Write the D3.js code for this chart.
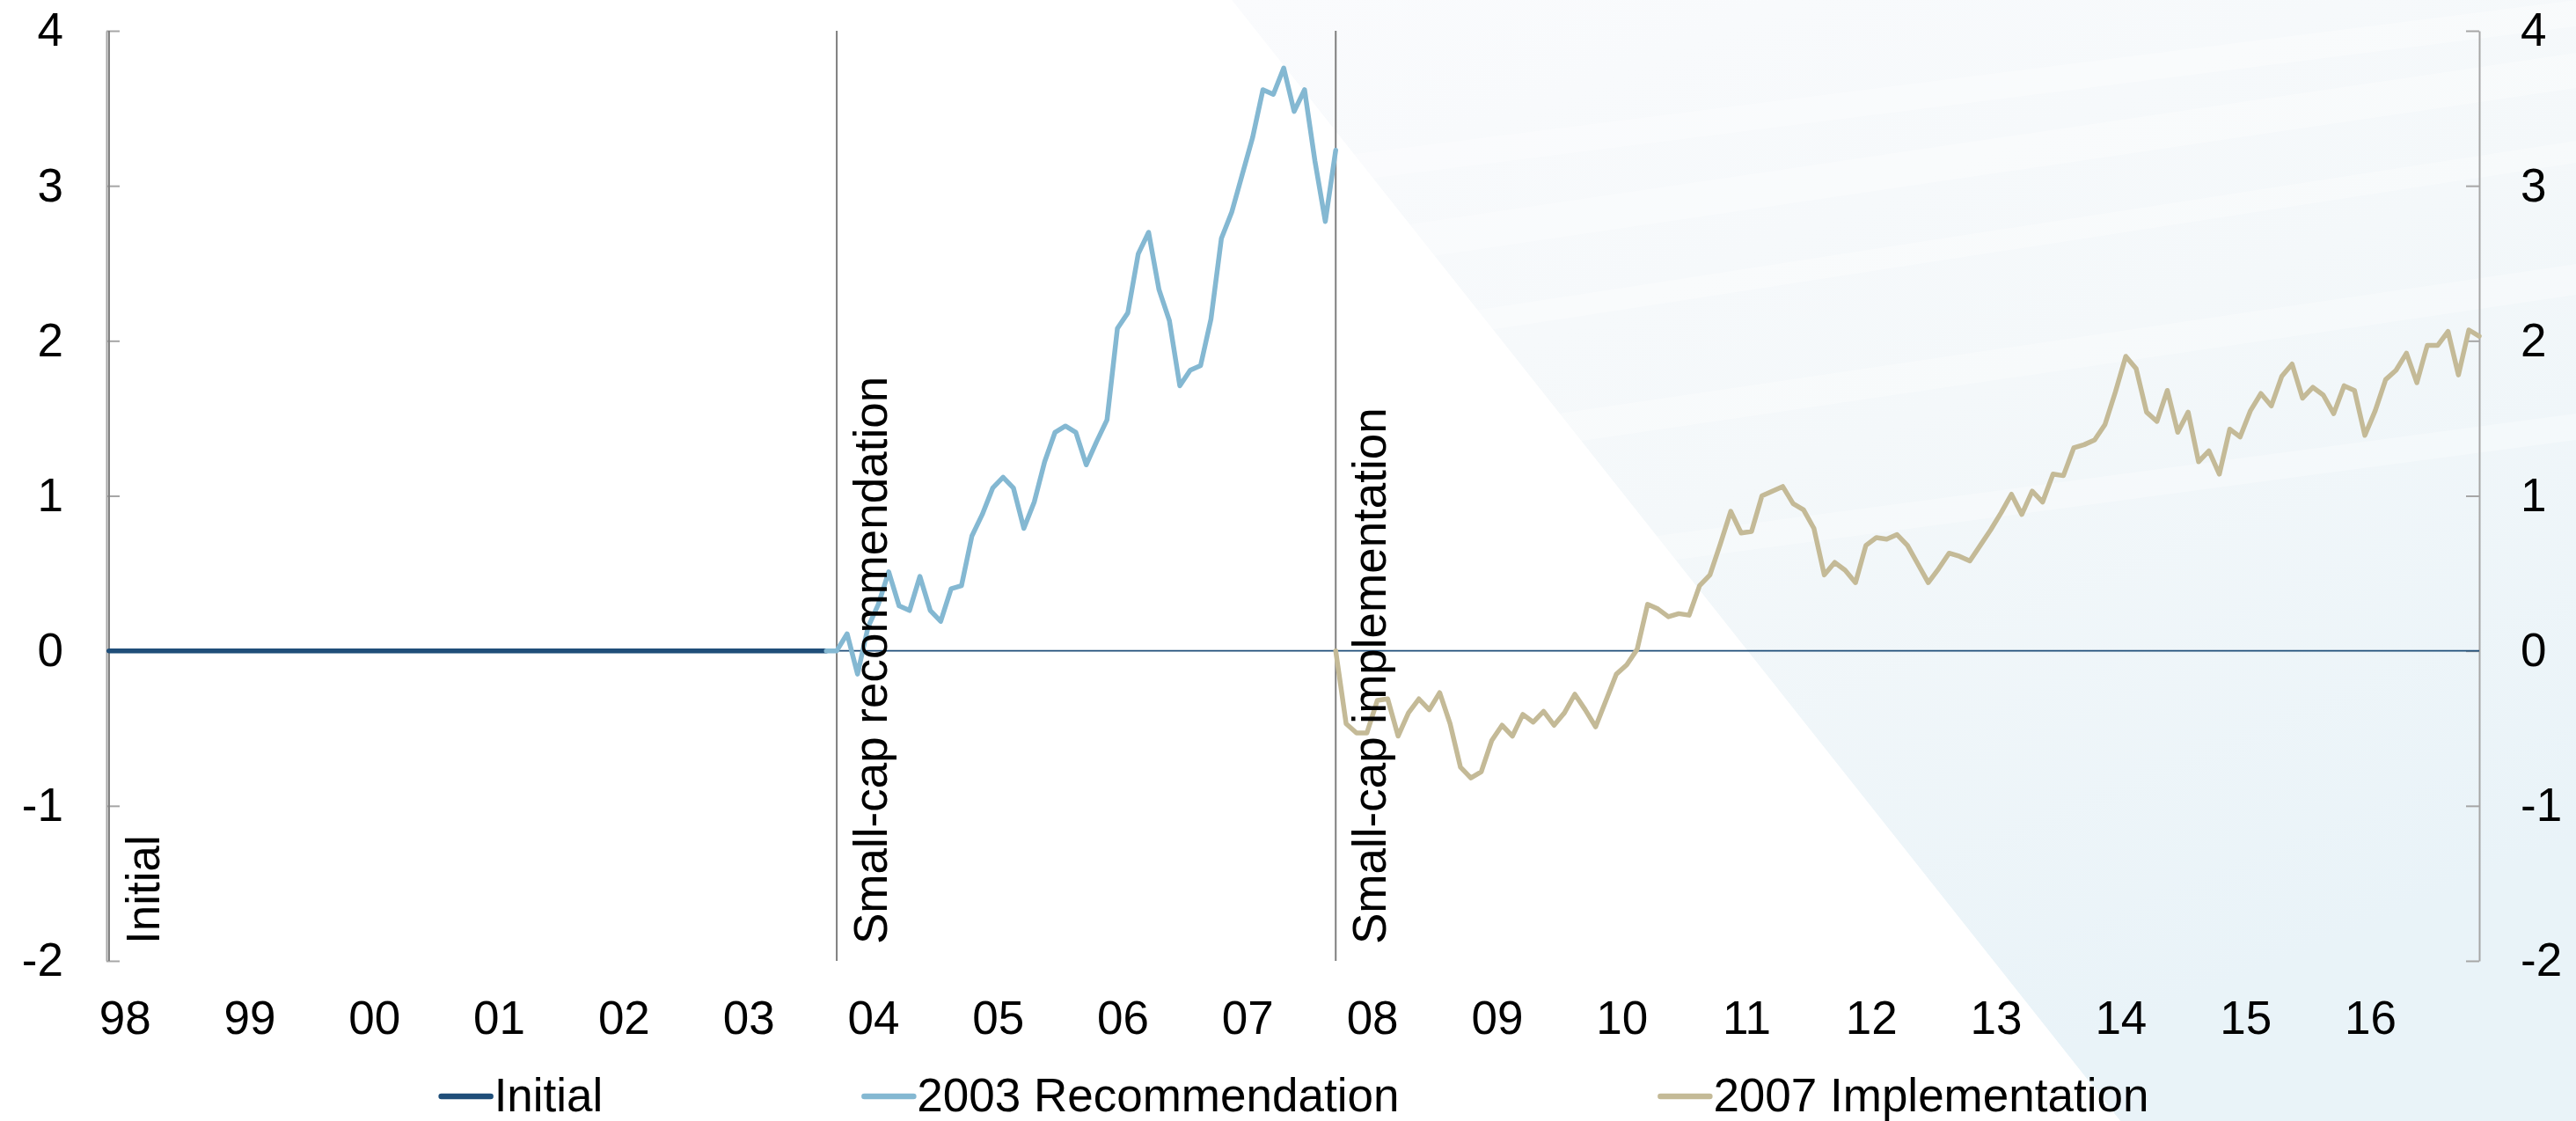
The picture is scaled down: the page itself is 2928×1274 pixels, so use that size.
<!DOCTYPE html>
<html>
<head>
<meta charset="utf-8">
<script src="https://cdn.jsdelivr.net/npm/d3@7"></script>
<style>
  html, body { margin: 0; padding: 0; background: #ffffff; }
  svg { display: block; }
  text { font-family: "Liberation Sans", Arial, sans-serif; fill: #000; }
</style>
</head>
<body>
<script>
// ---------------- DATA ----------------
// month index: 0 = Dec 1997, 1 = Jan 1998, ... 228 = Dec 2016
const yearLabels = ["98","99","00","01","02","03","04","05","06","07","08","09","10","11","12","13","14","15","16"];
const yTicks = [-2, -1, 0, 1, 2, 3, 4];

const seriesNames = ["Initial", "2003 Recommendation", "2007 Implementation"];

// Initial portfolio: flat at zero
const initialMonths = [0, 69];
const initialValues = [0, 0];

// 2003 Recommendation, monthly from month 69
const recStart = 69;
const recValues = [
  0.00, 0.00, 0.11, -0.15, 0.15, 0.30, 0.51, 0.29, 0.26, 0.48,
  0.26, 0.19, 0.40, 0.42, 0.74, 0.88, 1.05, 1.12, 1.05, 0.79,
  0.96, 1.22, 1.41, 1.45, 1.41, 1.20, 1.35, 1.49, 2.08, 2.18,
  2.56, 2.70, 2.33, 2.13, 1.71, 1.81, 1.84, 2.14, 2.66, 2.83,
  3.07, 3.31, 3.62, 3.59, 3.76, 3.48, 3.62, 3.16, 2.77, 3.23
];

// 2007 Implementation, monthly from month 118
const implStart = 118;
const implValues = [
  0.00, -0.47, -0.53, -0.53, -0.32, -0.31, -0.55, -0.40, -0.31, -0.38,
  -0.27, -0.47, -0.75, -0.82, -0.78, -0.58, -0.48, -0.55, -0.41, -0.46,
  -0.39, -0.48, -0.40, -0.28, -0.38, -0.49, -0.32, -0.15, -0.09, 0.01,
  0.30, 0.27, 0.22, 0.24, 0.23, 0.42, 0.49, 0.69, 0.90, 0.76,
  0.77, 1.00, 1.03, 1.06, 0.95, 0.91, 0.79, 0.49, 0.57,
  0.52, 0.44, 0.68, 0.73, 0.72, 0.75, 0.68, 0.56, 0.44, 0.53,
  0.63, 0.61, 0.58, 0.68, 0.78, 0.89, 1.01, 0.88, 1.03, 0.96,
  1.14, 1.13, 1.31, 1.33, 1.36, 1.46, 1.67, 1.90, 1.82, 1.54,
  1.48, 1.68, 1.41, 1.54, 1.22, 1.29, 1.14, 1.43, 1.38, 1.55,
  1.66, 1.58, 1.77, 1.85, 1.63, 1.70, 1.65, 1.53, 1.71, 1.68,
  1.39, 1.55, 1.75, 1.81, 1.92, 1.73, 1.97, 1.97, 2.06, 1.78,
  2.07, 2.03
];

// vertical event markers
const markerLabels = ["Initial", "Small-cap recommendation", "Small-cap implementation"];
const markerMonths = [0, 70, 118];

// ---------------- LAYOUT ----------------
const W = 2928, H = 1274;
const plotLeft = 121, plotRight = 2818, plotTop = 35, plotBottom = 1092;
const FS = 53;
const FONT = "'Liberation Sans', Arial, sans-serif";
const colors = ["#1F4E79", "#84B8D2", "#C4BA97"];

const svg = d3.select("body").append("svg").attr("width", W).attr("height", H);

// background decoration (pale blue wedge on the right)
const defs = svg.append("defs");
const grad = defs.append("linearGradient").attr("id", "bgGrad")
  .attr("x1", "0").attr("y1", "0").attr("x2", "0.5").attr("y2", "1");
grad.append("stop").attr("offset", "0").attr("stop-color", "#FAFBFD");
grad.append("stop").attr("offset", "0.5").attr("stop-color", "#F4F8FA");
grad.append("stop").attr("offset", "1").attr("stop-color", "#E9F3F8");
svg.append("polygon")
  .attr("points", "1400,0 2928,0 2928,1274 2410,1274")
  .attr("fill", "url(#bgGrad)");
// very faint light streaks
const streaks = [[0, 60, 30], [60, 150, 40], [160, 260, 25], [300, 390, 35], [470, 540, 30]];
streaks.forEach(s => {
  svg.append("polygon")
    .attr("points", `1500,${s[1] + 120} 2928,${s[0]} 2928,${s[0] + s[2]} 1500,${s[1] + 120 + s[2]}`)
    .attr("fill", "#ffffff").attr("opacity", 0.3);
});
// re-clip: keep white area left of the wedge edge clean
svg.append("polygon")
  .attr("points", "0,0 1400,0 2410,1274 0,1274")
  .attr("fill", "#ffffff");

const x = d3.scaleLinear().domain([-0.25, 228]).range([plotLeft, plotRight]);
const y = d3.scaleLinear().domain([-2, 4]).range([plotBottom, plotTop]);

// y axes
const fmt = d => String(d);
const yAxisL = d3.axisLeft(y).tickValues(yTicks).tickSizeInner(-15).tickSizeOuter(0).tickPadding(49).tickFormat(fmt);
const yAxisR = d3.axisRight(y).tickValues(yTicks).tickSizeInner(-15).tickSizeOuter(0).tickPadding(47).tickFormat(fmt);

const gL = svg.append("g").attr("transform", `translate(${plotLeft},0)`).call(yAxisL);
const gR = svg.append("g").attr("transform", `translate(${plotRight},0)`).call(yAxisR);
[gL, gR].forEach(g => {
  g.select(".domain").attr("stroke", "#A6A6A6").attr("stroke-width", 2);
  g.selectAll(".tick line").attr("stroke", "#A6A6A6").attr("stroke-width", 2);
  g.selectAll("text").attr("font-size", FS).attr("font-family", FONT).attr("fill", "#000");
});

// x labels (years)
const xAxis = d3.axisBottom(x)
  .tickValues(yearLabels.map((d, i) => 12 * i + 1.5))
  .tickFormat((d, i) => yearLabels[i])
  .tickSize(0).tickPadding(45);
const gX = svg.append("g").attr("transform", `translate(0,${plotBottom})`).call(xAxis);
gX.select(".domain").remove();
gX.selectAll("text").attr("font-size", FS).attr("font-family", FONT).attr("fill", "#000");

// zero line
svg.append("line")
  .attr("x1", plotLeft).attr("x2", plotRight)
  .attr("y1", y(0)).attr("y2", y(0))
  .attr("stroke", "#1F4E79").attr("stroke-width", 1.8);

// marker lines
svg.selectAll(".marker").data(markerMonths).enter().append("line")
  .attr("class", "marker")
  .attr("x1", d => x(d)).attr("x2", d => x(d))
  .attr("y1", plotTop).attr("y2", plotBottom)
  .attr("stroke", "#7F7F7F").attr("stroke-width", 2);

// series
const line = d3.line().x(d => x(d[0])).y(d => y(d[1]));
const seriesData = [
  initialMonths.map((m, i) => [m, initialValues[i]]),
  recValues.map((v, i) => [recStart + i, v]),
  implValues.map((v, i) => [implStart + i, v])
];
seriesData.forEach((data, i) => {
  svg.append("path").datum(data)
    .attr("d", line)
    .attr("fill", "none")
    .attr("stroke", colors[i])
    .attr("stroke-width", 5.5)
    .attr("stroke-linejoin", "round")
    .attr("stroke-linecap", "round");
});

// marker labels (rotated)
svg.selectAll(".mlabel").data(markerMonths).enter().append("text")
  .attr("class", "mlabel")
  .attr("transform", d => `translate(${x(d) + 57},1073) rotate(-90)`)
  .attr("text-anchor", "start")
  .attr("font-size", FS)
  .text((d, i) => markerLabels[i]);

// legend
const legend = svg.append("g");
const items = legend.selectAll(".li").data(seriesNames).enter().append("g").attr("class", "li");
items.append("line").attr("x1", 0).attr("x2", 56).attr("y1", 1246).attr("y2", 1246)
  .attr("stroke", (d, i) => colors[i]).attr("stroke-width", 6.5).attr("stroke-linecap", "round");
items.append("text").attr("x", 60).attr("y", 1263).attr("font-size", FS).text(d => d);
const widths = [];
items.each(function () { widths.push(60 + d3.select(this).select("text").node().getComputedTextLength()); });
const gap = 297;
const total = d3.sum(widths) + gap * (widths.length - 1);
let cx = 1472 - total / 2;
items.each(function (d, i) {
  d3.select(this).attr("transform", `translate(${cx},0)`);
  cx += widths[i] + gap;
});
</script>
</body>
</html>
